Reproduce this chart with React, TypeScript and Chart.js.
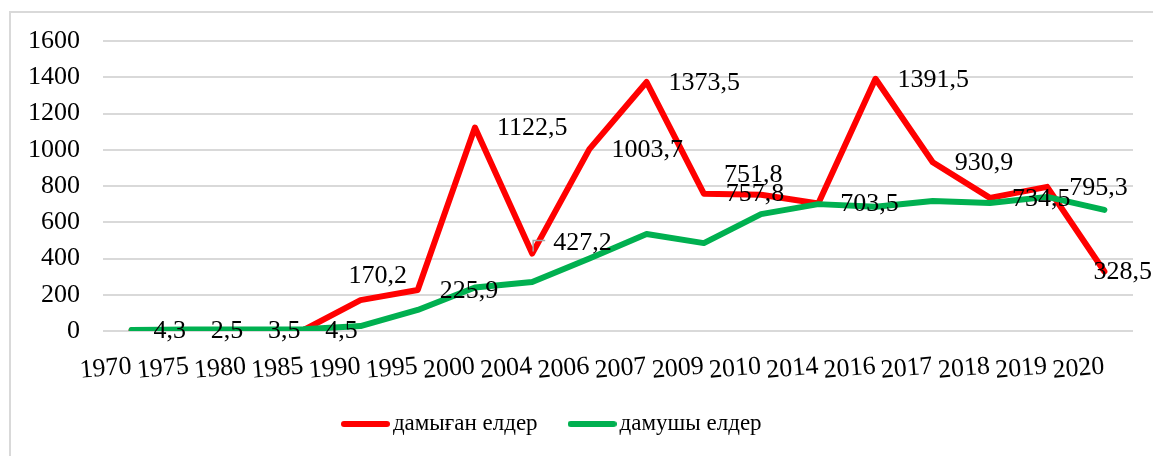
import { useEffect, useRef } from "react";
import { Chart, registerables } from "chart.js";

Chart.register(...registerables);

const years = ["1970", "1975", "1980", "1985", "1990", "1995", "2000", "2004", "2006", "2007", "2009", "2010", "2014", "2016", "2017", "2018", "2019", "2020"];
const developed = [4.3, 2.5, 3.5, 4.5, 170.2, 225.9, 1122.5, 427.2, 1003.7, 1373.5, 757.8, 751.8, 703.5, 1391.5, 930.9, 734.5, 795.3, 328.5];
const developing = [5, 8, 8, 10, 27, 116, 240, 270, 400, 535, 485, 645, 700, 685, 717, 706, 740, 668];
const seriesNames = ["дамыған елдер", "дамушы елдер"];
const seriesColors = ["#ff0000", "#00b050"];
const yMin = 0;
const yMax = 1600;
const yStep = 200;

// label nudges (relative to the default "right" placement) for labels moved by hand
const labelNudges: Record<number, [number, number]> = { 4: [-34, -25], 7: [-1, -11], 11: [-59, -21] };
const leaderLabels = [7];

const fontFamily = "'Liberation Serif', 'Times New Roman', serif";

export default function App() {
  const ref = useRef<HTMLCanvasElement>(null);

  useEffect(() => {
    const canvas = ref.current!;
    const makeSample = (color: string) => {
      const c = document.createElement("canvas");
      c.width = 49;
      c.height = 8;
      const g = c.getContext("2d")!;
      g.strokeStyle = color;
      g.lineWidth = 6;
      g.lineCap = "round";
      g.beginPath();
      g.moveTo(3, 4);
      g.lineTo(46, 4);
      g.stroke();
      return c;
    };
    const samples = seriesColors.map(makeSample);
    const fmt = (v: number) => v.toFixed(1).replace(".", ",");

    const framePlugin = {
      id: "frame",
      beforeDraw(chart: any) {
        const ctx = chart.ctx;
        ctx.save();
        ctx.strokeStyle = "#d9d9d9";
        ctx.lineWidth = 2;
        ctx.strokeRect(10, 12, 1400, 700);
        ctx.restore();
      },
    };

    const legendShift = {
      id: "legendShift",
      afterLayout(chart: any) {
        const lg = chart.legend;
        if (lg) {
          lg.left -= 11;
          lg.right -= 11;
          lg.top -= 7;
          lg.bottom -= 7;
        }
      },
    };

    const labelsPlugin = {
      id: "valueLabels",
      afterDatasetsDraw(chart: any) {
        const meta = chart.getDatasetMeta(0);
        const ctx = chart.ctx;
        ctx.save();
        ctx.font = `26px ${fontFamily}`;
        ctx.textAlign = "left";
        ctx.textBaseline = "middle";
        meta.data.forEach((pt: any, i: number) => {
          const text = fmt(developed[i]);
          const w = ctx.measureText(text).width;
          const [nx, ny] = labelNudges[i] || [0, 0];
          let x = pt.x + 22 + nx;
          const y = pt.y + 1 + ny;
          if (x + w > chart.width - 1) x = chart.width - 1 - w;
          if (leaderLabels.includes(i)) {
            ctx.strokeStyle = "#a6a6a6";
            ctx.lineWidth = 1.5;
            ctx.beginPath();
            ctx.moveTo(pt.x + 1, pt.y - 2);
            ctx.lineTo(pt.x + 1, y - 3);
            ctx.lineTo(pt.x + 13, y - 3);
            ctx.stroke();
          }
          ctx.fillStyle = "#000";
          ctx.fillText(text, x, y);
        });
        ctx.restore();
      },
    };

    const font = { family: fontFamily, size: 26 };

    const chart = new Chart(canvas, {
      type: "line",
      data: {
        labels: years,
        datasets: [
          { label: seriesNames[0], data: developed, borderColor: seriesColors[0], backgroundColor: seriesColors[0], order: 1 },
          { label: seriesNames[1], data: developing, borderColor: seriesColors[1], backgroundColor: seriesColors[1], order: 0 },
        ],
      },
      options: {
        responsive: false,
        animation: false,
        devicePixelRatio: 1,
        layout: { padding: { left: 0, right: 20, top: 41, bottom: 3.5 } },
        elements: {
          line: { borderWidth: 6, tension: 0, borderJoinStyle: "round", borderCapStyle: "round" },
          point: { radius: 0, hoverRadius: 0 },
        },
        scales: {
          x: {
            offset: true,
            grid: { display: false, drawTicks: false },
            border: { display: false },
            ticks: { autoSkip: false, minRotation: 5, maxRotation: 5, padding: 20, color: "#000", font },
            afterFit: (s: any) => {
              s.height = 50;
            },
          },
          y: {
            min: yMin,
            max: yMax,
            ticks: { stepSize: yStep, padding: 23, color: "#000", font, callback: (v: any) => String(v) },
            grid: { color: "#d9d9d9", lineWidth: 2, drawTicks: false },
            border: { display: false },
            afterFit: (s: any) => {
              s.width = 103;
            },
          },
        },
        plugins: {
          legend: {
            position: "bottom",
            labels: {
              usePointStyle: true,
              pointStyleWidth: 32,
              padding: 38.5,
              color: "#000",
              font: { family: fontFamily, size: 23 },
              sort: (a: any, b: any) => a.datasetIndex - b.datasetIndex,
              generateLabels: (c: any) =>
                (Chart.defaults.plugins.legend.labels.generateLabels as any)(c).map((item: any) => ({
                  ...item,
                  pointStyle: samples[item.datasetIndex],
                })),
            },
          },
          tooltip: { enabled: false },
        },
      } as any,
      plugins: [framePlugin, legendShift, labelsPlugin],
    });
    return () => chart.destroy();
  }, []);

  return (
    <div style={{ position: "absolute", left: 0, top: 0, width: 1153, height: 456, background: "#fff" }}>
      <canvas ref={ref} width={1153} height={456} style={{ width: 1153, height: 456, display: "block" }} />
    </div>
  );
}
